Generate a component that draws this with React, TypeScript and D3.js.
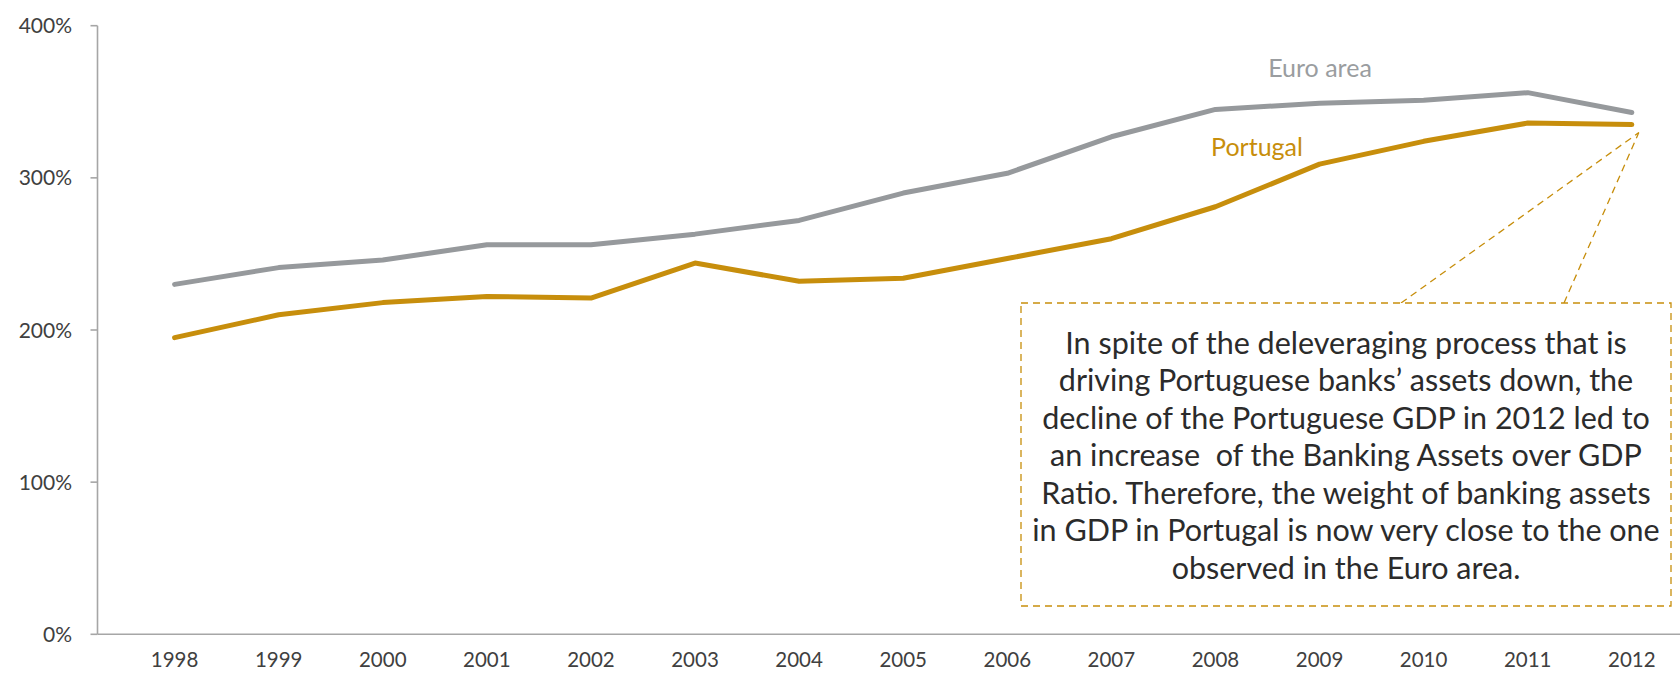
import React from "react";
import * as d3 from "d3";

const years = ["1998","1999","2000","2001","2002","2003","2004","2005","2006","2007","2008","2009","2010","2011","2012"];
const euroArea = [230, 241, 246, 256, 256, 263, 272, 290, 303, 327, 345, 349, 351, 356, 343];
const portugal = [195, 210, 218, 222, 221, 244, 232, 234, 247, 260, 281, 309, 324, 336, 335];
const yTicks = [0, 100, 200, 300, 400];
const noteLines = [
  "In spite of the deleveraging process that is",
  "driving Portuguese banks\u2019 assets down, the",
  "decline of the Portuguese GDP in 2012 led to",
  "an increase  of the Banking Assets over GDP",
  "Ratio. Therefore, the weight of banking assets",
  "in GDP in Portugal is now very close to the one",
  "observed in the Euro area.",
];

const W = 1680, H = 679;
const axisX = 97.5;
const font = "Lato, 'Open Sans', sans-serif";

export default function App() {
  const x = d3.scalePoint<string>().domain(years).range([174.6, 1631.8]);
  const y = d3.scaleLinear().domain([0, 400]).range([634.3, 25.7]);
  const line = d3.line<number>().x((_, i) => x(years[i]) as number).y((d) => y(d));
  const tipX = (x("2012") as number) + 7;
  const tipY = y(portugal[portugal.length - 1]) + 8;
  const box = { x0: 1021, y0: 303, x1: 1671, y1: 606 };
  const gold = "#c78e0c";
  const grey = "#96999c";
  return (
    <svg width={W} height={H} style={{ position: "absolute", left: 0, top: 0, background: "#fff" }}>
      {/* axes */}
      <line x1={axisX} x2={W} y1={y(0)} y2={y(0)} stroke="#a6a6a6" strokeWidth={1.6} />
      <line x1={axisX} x2={axisX} y1={y(400)} y2={y(0)} stroke="#a6a6a6" strokeWidth={1.6} />
      {yTicks.map((t) => (
        <g key={t}>
          <line x1={axisX - 7} x2={axisX} y1={y(t)} y2={y(t)} stroke="#a6a6a6" strokeWidth={1.6} />
          <text x={72} y={y(t)} dy="0.36em" textAnchor="end" fontFamily={font} fontSize={21} fill="#404040">
            {t + "%"}
          </text>
        </g>
      ))}
      {years.map((yr) => (
        <text key={yr} x={x(yr)} y={667} textAnchor="middle" fontFamily={font} fontSize={20.5} fill="#404040">
          {yr}
        </text>
      ))}
      {/* series */}
      <path d={line(euroArea) || ""} fill="none" stroke={grey} strokeWidth={5} strokeLinejoin="round" strokeLinecap="round" />
      <path d={line(portugal) || ""} fill="none" stroke={gold} strokeWidth={5} strokeLinejoin="round" strokeLinecap="round" />
      <text x={1320} y={68} dy="0.35em" textAnchor="middle" fontFamily={font} fontSize={25} fill="#9a9da0">Euro area</text>
      <text x={1257} y={147} dy="0.35em" textAnchor="middle" fontFamily={font} fontSize={25} fill={gold}>Portugal</text>
      {/* annotation */}
      <line x1={1401} y1={box.y0} x2={tipX} y2={tipY} stroke={gold} strokeWidth={1.3} strokeDasharray="7,5" />
      <line x1={1564} y1={box.y0} x2={tipX} y2={tipY} stroke={gold} strokeWidth={1.3} strokeDasharray="7,5" />
      <rect x={box.x0} y={box.y0} width={box.x1 - box.x0} height={box.y1 - box.y0} fill="#fff" stroke={gold} strokeWidth={1.3} strokeDasharray="7,5" />
      {noteLines.map((l, i) => (
        <text key={i} x={(box.x0 + box.x1) / 2} y={343 + i * 37.5} dy="0.35em" textAnchor="middle" fontFamily={font} fontSize={30.5} fill="#2b2b2b" style={{ whiteSpace: "pre" }}>
          {l}
        </text>
      ))}
    </svg>
  );
}
